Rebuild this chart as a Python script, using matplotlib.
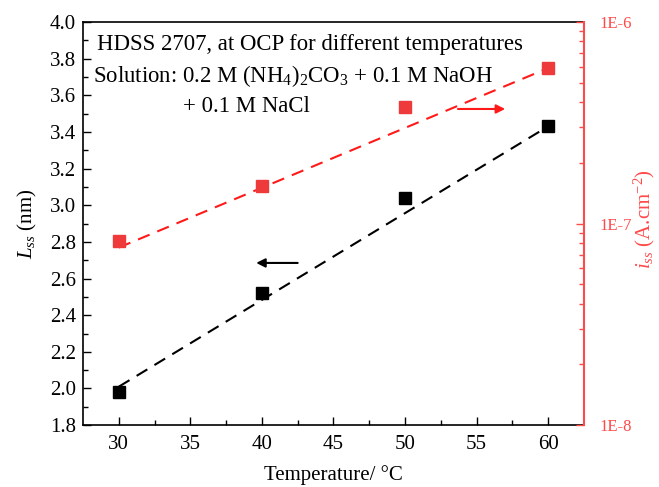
import numpy as np
import matplotlib.pyplot as plt
from matplotlib.ticker import LogLocator, NullFormatter, FixedLocator

plt.rcParams['font.family'] = ['Liberation Serif', 'DejaVu Serif']
plt.rcParams['mathtext.fontset'] = 'custom'
plt.rcParams['mathtext.rm'] = 'Liberation Serif'
plt.rcParams['mathtext.it'] = 'Liberation Serif:italic'

temps = [30, 40, 50, 60]
L_ss = [1.98, 2.52, 3.04, 3.43]
i_ss = [8.2e-8, 1.53e-7, 3.78e-7, 5.9e-7]

# end points of the fitted trend lines
fit_T = [30, 60]
fit_L = [2.01, 3.43]
fit_i = [7.6e-8, 5.9e-7]

red = '#ff1a1a'
red_mk = '#ee3a3a'
red_ax = '#ff4a4a'

fig = plt.figure(figsize=(6.59, 4.87), dpi=100)
ax = fig.add_axes([0.126, 0.127, 0.76, 0.828])
ax2 = ax.twinx()

# thickness vs temperature
ax.plot(temps, L_ss, 's', color='black', ms=8.5, zorder=3)
ax.plot(fit_T, fit_L, '--', color='black', lw=1.5, dashes=(6, 4))

# current density on log scale
ax2.plot(temps, i_ss, 's', color=red_mk, ms=8.5, zorder=3)
ax2.plot(fit_T, fit_i, '--', color=red, lw=1.5, dashes=(6, 4))

ax.set_xlim(27.5, 62.5)
ax.set_ylim(1.8, 4.0)
ax.set_xticks([30, 35, 40, 45, 50, 55, 60])
ax.set_xticks(np.arange(32.5, 62, 5), minor=True)
ax.set_yticks(np.arange(1.8, 4.01, 0.2))
ax.set_yticks(np.arange(1.9, 4.0, 0.2), minor=True)
ax.tick_params(which='major', direction='in', length=6, width=1, labelsize=15)
ax.tick_params(which='minor', direction='in', length=3.5, width=1)
ax.tick_params(axis='x', pad=7)
ax.tick_params(axis='y', pad=5)
for s in ax.spines.values():
    s.set_linewidth(1.2)

ax2.set_yscale('log')
ax2.set_ylim(1e-8, 1e-6)
ax2.yaxis.set_major_locator(FixedLocator([1e-8, 1e-7, 1e-6]))
ax2.yaxis.set_minor_locator(LogLocator(base=10, subs=np.arange(2, 10)))
ax2.yaxis.set_minor_formatter(NullFormatter())
ax2.set_yticklabels(['1E-8', '1E-7', '1E-6'])
ax2.tick_params(which='major', direction='in', length=6, width=1, labelsize=12,
                color=red_ax, labelcolor=red_ax, pad=11)
ax2.tick_params(which='minor', direction='in', length=3.5, width=1, color=red_ax)
ax2.spines['right'].set_color(red_ax)
ax2.spines['right'].set_linewidth(1.5)
for s in ['left', 'top', 'bottom']:
    ax2.spines[s].set_visible(False)

ax.set_xlabel('Temperature/ °C', fontsize=15, labelpad=8)
ax.set_ylabel('$L_{ss}$ (nm)', fontsize=15, labelpad=8)
ax2.set_ylabel('$i_{ss}$ (A.cm$^{-2}$)', fontsize=15, color=red_ax)
ax2.yaxis.set_label_coords(1.096, 0.51)

ax.text(0.028, 0.943, 'HDSS 2707, at OCP for different temperatures',
        transform=ax.transAxes, fontsize=16.4, va='center', ha='left')
ax.text(0.02, 0.866, 'Solution: 0.2 M (NH$_4$)$_2$CO$_3$ + 0.1 M NaOH',
        transform=ax.transAxes, fontsize=16.4, va='center', ha='left')
ax.text(0.2, 0.789, '+ 0.1 M NaCl',
        transform=ax.transAxes, fontsize=16.4, va='center', ha='left')

# arrows pointing to the matching axis
ax.annotate('', xy=(39.6, 2.685), xytext=(42.5, 2.685),
            arrowprops=dict(arrowstyle='-|>', color='black', lw=1.5,
                            mutation_scale=13, shrinkA=0, shrinkB=0))
ax.annotate('', xy=(57.0, 3.525), xytext=(53.7, 3.525),
            arrowprops=dict(arrowstyle='-|>', color=red, lw=1.5,
                            mutation_scale=13, shrinkA=0, shrinkB=0))

fig.savefig('out.png', dpi=100)
